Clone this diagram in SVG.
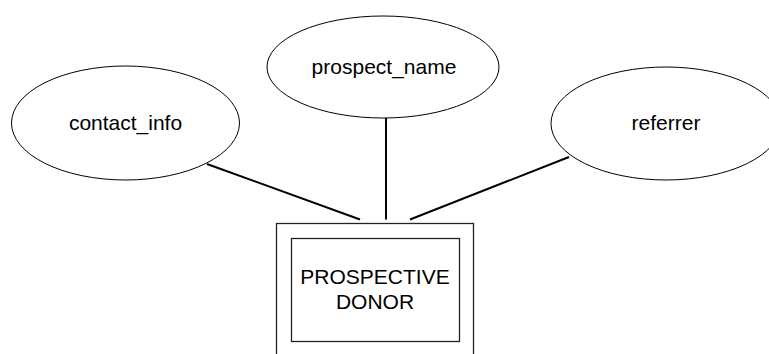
<svg xmlns="http://www.w3.org/2000/svg" width="769" height="354" viewBox="0 0 769 354">
  <style>
    .attr { fill: #ffffff; stroke: #000000; stroke-width: 1; }
    .box { fill: none; stroke: #222222; stroke-width: 1.3; }
    .label { font-family: "Liberation Sans", Arial, sans-serif; font-size: 21px; fill: #000000; text-anchor: middle; }
    .link { stroke: #000000; stroke-width: 2; fill: none; }
  </style>
  <rect width="769" height="354" fill="#ffffff"/>

  <!-- connectors from attributes to the entity -->
  <g id="connectors">
    <line class="link" x1="207" y1="164" x2="360" y2="219.5"/>
    <line class="link" x1="386" y1="118" x2="386" y2="219.5"/>
    <line class="link" x1="569" y1="157" x2="410" y2="219.5"/>
  </g>

  <g id="contact_info">
    <ellipse class="attr" cx="125.5" cy="123" rx="114" ry="57"/>
    <text class="label" x="125.5" y="130">contact_info</text>
  </g>

  <g id="prospect_name">
    <ellipse class="attr" cx="383" cy="67" rx="116" ry="51"/>
    <text class="label" x="384" y="74">prospect_name</text>
  </g>

  <g id="referrer">
    <ellipse class="attr" cx="666" cy="123.5" rx="115" ry="56.5"/>
    <text class="label" x="666" y="130">referrer</text>
  </g>

  <g id="prospective_donor">
    <rect class="box" x="276.5" y="223.5" width="197" height="200"/>
    <rect class="box" x="291.5" y="238.5" width="168" height="103"/>
    <text class="label" x="375" y="284">PROSPECTIVE</text>
    <text class="label" x="375" y="309">DONOR</text>
  </g>
</svg>
